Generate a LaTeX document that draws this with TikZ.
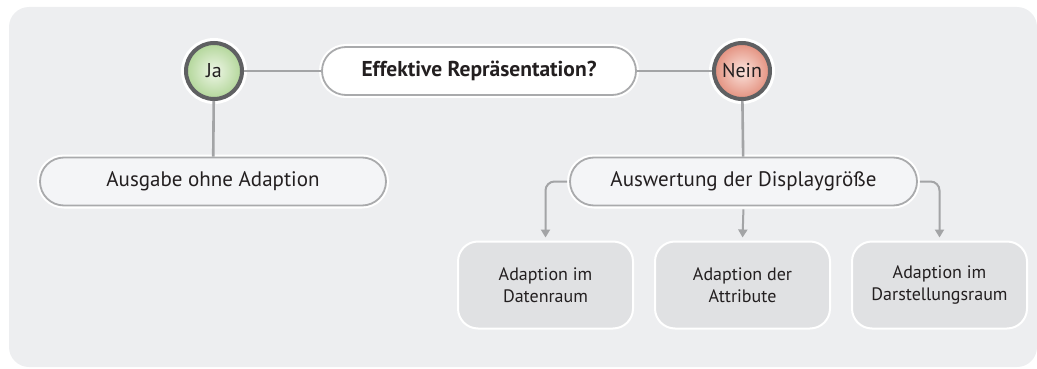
\documentclass[tikz,border=0pt]{standalone}
\usepackage{fontspec}
\setmainfont{PT Sans}
\usetikzlibrary{arrows.meta}
\definecolor{bgc}{HTML}{EDEEF0}
\definecolor{linec}{HTML}{A3A4A6}
\definecolor{pillborder}{HTML}{A9AAAC}
\definecolor{pillfill}{HTML}{F4F5F7}
\definecolor{boxfill}{HTML}{E0E1E3}
\definecolor{ringc}{HTML}{5F6062}
\definecolor{jain}{HTML}{EEF6E6}
\definecolor{jaout}{HTML}{B2D699}
\definecolor{neinin}{HTML}{FBE3DC}
\definecolor{neinout}{HTML}{E3907E}
\definecolor{textc}{HTML}{231F20}
\tikzset{
  pill/.style={rectangle, rounded corners=24pt, minimum height=48pt, draw=pillborder, line width=1.8pt, fill=pillfill,
    preaction={draw=white, line width=6pt}, text=textc, font=\fontsize{21}{24}\selectfont, inner sep=0pt},
  decision/.style={circle, minimum size=56pt, inner sep=0pt, draw=ringc, line width=4pt, shading=radial,
    preaction={draw=white, line width=10pt}, text=textc, font=\fontsize{20}{22}\selectfont},
  resultbox/.style={rectangle, rounded corners=20pt, minimum width=175pt, minimum height=87pt, fill=boxfill,
    draw=white, line width=2pt, align=center, text=textc, font=\fontsize{18}{21.5}\selectfont, inner sep=0pt},
  conn/.style={draw=linec, line width=2.6pt},
  arr/.style={draw=linec, line width=2pt, rounded corners=9pt, -{Triangle[width=9pt,length=8pt]}}
}
\begin{document}
\begin{tikzpicture}[x=1pt,y=-1pt]
\useasboundingbox (0,0) rectangle (1037,369);
\begin{scope}
\clip (0,0) rectangle (1037,369);
\fill[bgc, rounded corners=20pt] (9,7) rectangle (1037,367);
\end{scope}
\node[pill, fill=white, minimum width=314pt, font=\fontsize{21.5}{24}\selectfont\bfseries] (eff) at (479,71) {Effektive Repräsentation?};
\node[decision, inner color=jain, outer color=jaout] (ja) at (214,71) {Ja};
\node[decision, inner color=neinin, outer color=neinout] (nein) at (742,71) {Nein};
\node[pill, minimum width=346pt] (ausg) at (213,181.5) {Ausgabe ohne Adaption};
\node[pill, minimum width=347pt] (ausw) at (743.5,181.5) {Auswertung der Displaygröße};
\node[resultbox] (b1) at (545.5,285) {Adaption im\\Datenraum};
\node[resultbox] (b2) at (742.5,285) {Adaption der\\Attribute};
\node[resultbox] (b3) at (939.5,285) {Adaption im\\Darstellungsraum};
\draw[conn] (ja) -- (eff);
\draw[conn] (eff) -- (nein);
\draw[conn] (ja) -- (ausg);
\draw[conn] (nein) -- (ausw);
\draw[arr, shorten <=2pt, shorten >=3pt] (ausw.west) -| (b1.north);
\draw[arr, shorten <=3pt, shorten >=3pt] (ausw.south) -- (b2.north);
\draw[arr, shorten <=2pt, shorten >=3pt] (ausw.east) -| (b3.north);
\end{tikzpicture}
\end{document}
